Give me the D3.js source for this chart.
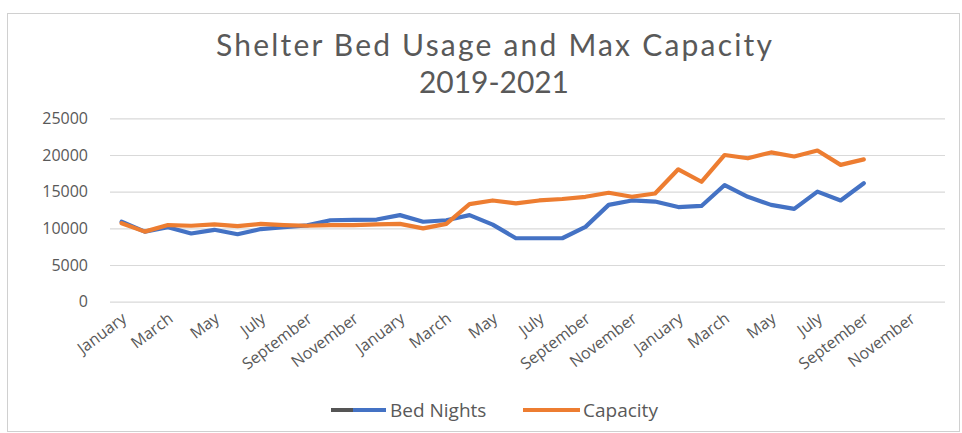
<!DOCTYPE html>
<html>
<head>
<meta charset="utf-8">
<script src="https://cdn.jsdelivr.net/npm/d3@7"></script>
<style>
  html, body { margin: 0; padding: 0; background: #fff; }
  svg { display: block; }
</style>
</head>
<body>
<svg id="chart" width="962" height="433"></svg>
<script>
const months = ["January","February","March","April","May","June","July","August","September","October","November","December"];
const years = [2019, 2020, 2021];
const categories = [];
years.forEach(y => months.forEach(m => categories.push(m + " " + y)));
const bedNights = [10900, 9550, 10150, 9300, 9800, 9200, 9900, 10150, 10400, 11100, 11150, 11200,
                   11800, 10900, 11100, 11800, 10500, 8650, 8650, 8650, 10200, 13200, 13800, 13650,
                   12900, 13050, 15900, 14300, 13200, 12650, 15000, 13800, 16150];
const capacity  = [10700, 9550, 10450, 10350, 10550, 10300, 10600, 10450, 10350, 10450, 10450, 10550,
                   10600, 10000, 10600, 13300, 13800, 13400, 13800, 14000, 14300, 14850, 14300, 14750,
                   18050, 16350, 20000, 19550, 20350, 19800, 20600, 18650, 19400];
const yTicks = [0, 5000, 10000, 15000, 20000, 25000];
const seriesNames = ["Bed Nights", "Capacity"];
const titleLines = ["Shelter Bed Usage and Max Capacity", "2019-2021"];
const colors = ["#4472C4", "#ED7D31"];

const FONT = "Open Sans, Noto Sans, sans-serif";
const TFONT = "Lato, Open Sans, sans-serif";
const svg = d3.select("#chart");
const plot = { left: 110, right: 945, top: 118.3, bottom: 301.7 };

// frame
svg.append("rect").attr("x", 7.5).attr("y", 13.5).attr("width", 952).attr("height", 418)
  .attr("fill", "none").attr("stroke", "#d0d0d0").attr("stroke-width", 1);

const x = d3.scaleBand().domain(categories).range([plot.left, plot.right]).padding(0);
const y = d3.scaleLinear().domain([0, 25000]).range([plot.bottom, plot.top]);
const cx = i => x(categories[i]) + x.bandwidth() / 2;

// title
svg.append("text").attr("text-anchor", "middle").attr("font-family", TFONT).attr("fill", "#595959")
  .attr("font-size", 30).attr("x", 494).attr("y", 56)
  .attr("textLength", 556).attr("lengthAdjust", "spacing").text(titleLines[0]);
svg.append("text").attr("text-anchor", "middle").attr("font-family", TFONT).attr("fill", "#595959")
  .attr("font-size", 30).attr("x", 494).attr("y", 92.5)
  .attr("textLength", 150).attr("lengthAdjust", "spacing").text(titleLines[1]);

// y axis gridlines + labels
const yAxis = d3.axisLeft(y).tickValues(yTicks).tickSize(-(plot.right - plot.left)).tickFormat(d3.format("d"));
const gy = svg.append("g").attr("transform", `translate(${plot.left},0)`).call(yAxis);
gy.select(".domain").remove();
gy.selectAll(".tick line").attr("stroke", "#d9d9d9").attr("stroke-width", 1.2);
gy.selectAll(".tick text").attr("x", -22).attr("fill", "#595959")
  .attr("font-family", FONT).attr("font-size", 16);

// x axis labels
const xAxis = d3.axisBottom(x).tickValues(categories.filter((d, i) => i % 2 === 0))
  .tickSize(0).tickFormat(d => d.split(" ")[0]);
const gx = svg.append("g").attr("transform", `translate(0,${plot.bottom})`).call(xAxis);
gx.select(".domain").remove();
gx.selectAll(".tick text")
  .attr("fill", "#595959").attr("font-family", FONT).attr("font-size", 16)
  .attr("text-anchor", "end").attr("dy", 0).attr("y", 0)
  .attr("transform", "translate(6,19) rotate(-37)");

// lines
const line = d3.line().x((d, i) => cx(i)).y(d => y(d)).curve(d3.curveLinear);
[bedNights, capacity].forEach((s, k) => {
  svg.append("path").datum(s).attr("d", line).attr("fill", "none")
    .attr("stroke", colors[k]).attr("stroke-width", 4.2)
    .attr("stroke-linejoin", "round").attr("stroke-linecap", "round");
});

// legend
const leg = svg.append("g").attr("font-family", FONT).attr("font-size", 19).attr("fill", "#595959");
const legItems = [{ x0: 331, x1: 386, tx: 390 }, { x0: 523, x1: 580, tx: 583 }];
legItems.forEach((it, k) => {
  if (k === 0) {
    leg.append("line").attr("x1", it.x0).attr("x2", it.x0 + 22).attr("y1", 410).attr("y2", 410)
      .attr("stroke", "#555").attr("stroke-width", 4);
    leg.append("line").attr("x1", it.x0 + 22).attr("x2", it.x1).attr("y1", 410).attr("y2", 410)
      .attr("stroke", colors[k]).attr("stroke-width", 4);
  } else {
    leg.append("line").attr("x1", it.x0).attr("x2", it.x1).attr("y1", 410).attr("y2", 410)
      .attr("stroke", colors[k]).attr("stroke-width", 4);
  }
  leg.append("text").attr("x", it.tx).attr("y", 417).text(seriesNames[k]);
});
</script>
</body>
</html>
